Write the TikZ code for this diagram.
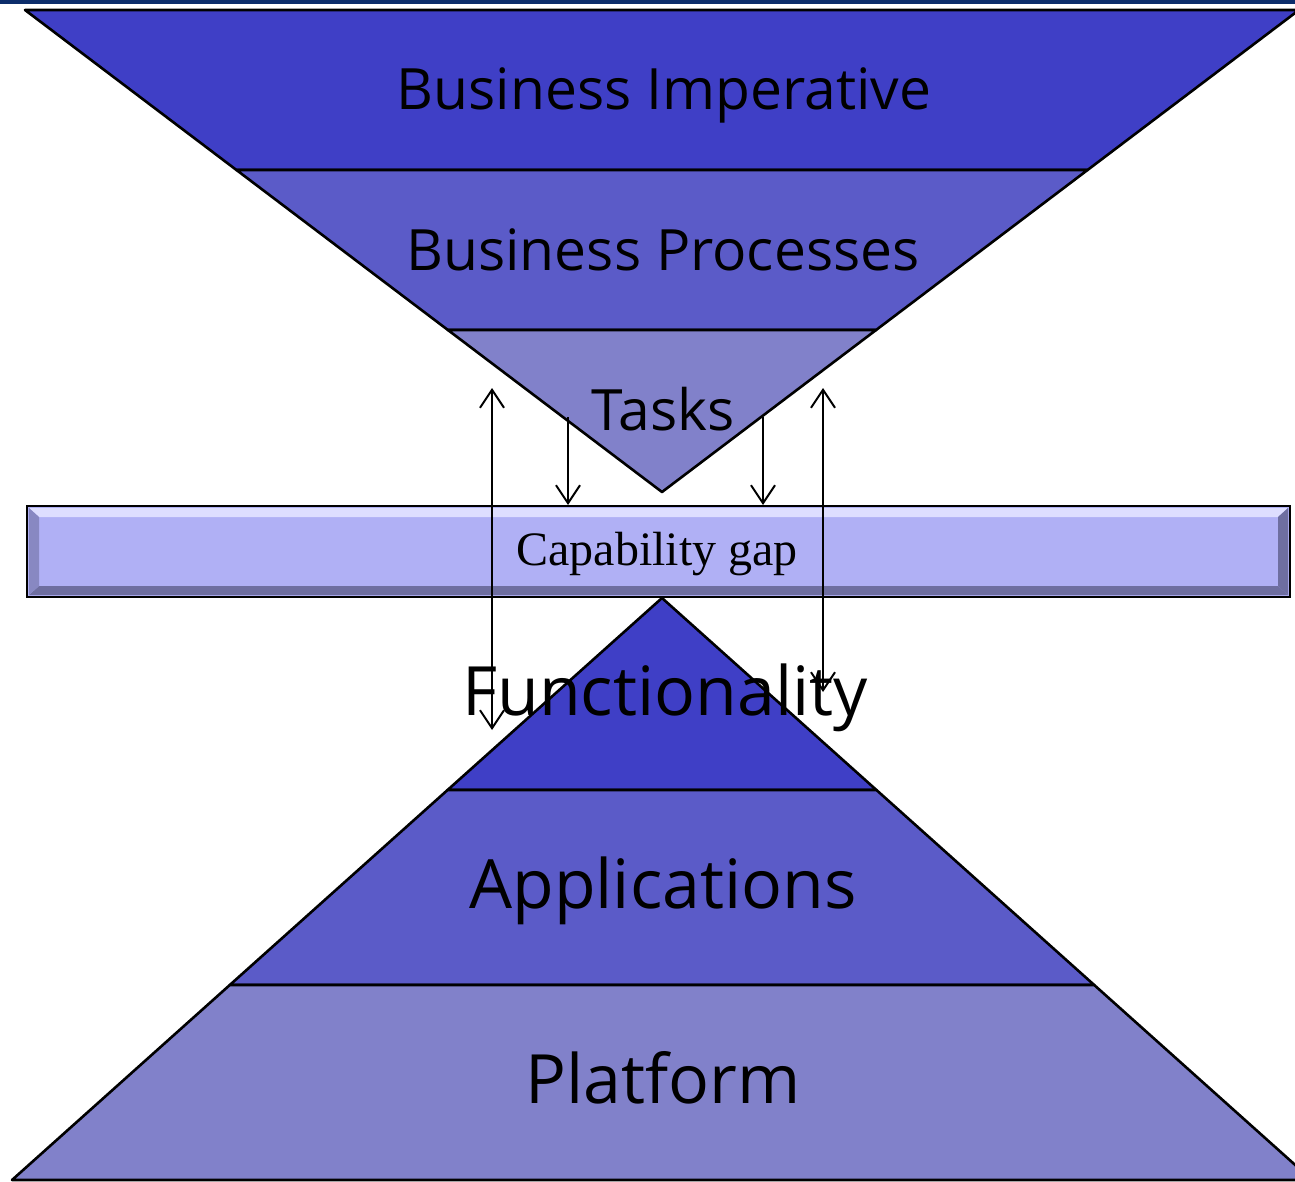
\documentclass[tikz,border=0pt]{standalone}
\usepackage{fontspec}
\newfontfamily\layerfont{Open Sans}
\newfontfamily\gapfont{Liberation Serif}
\usetikzlibrary{calc,math,arrows.meta}

\definecolor{navy}{RGB}{12,45,107}
\definecolor{bandA}{RGB}{63,63,198}
\definecolor{bandB}{RGB}{91,91,200}
\definecolor{bandC}{RGB}{129,129,202}
\definecolor{barfill}{RGB}{176,176,245}
\definecolor{barlight}{RGB}{222,222,255}
\definecolor{bardark}{RGB}{110,110,160}

\tikzset{
    layer/.style={draw=black, line width=2.6pt, line join=round},
    toplabel/.style={anchor=base, font=\layerfont\fontsize{57}{60}\selectfont},
    botlabel/.style={anchor=base, font=\layerfont\fontsize{68}{72}\selectfont},
    gaparrow/.style={line width=2pt, >={Straight Barb[length=18pt,width=24pt,line width=2pt]}},
}

\begin{document}
\begin{tikzpicture}[x=1pt, y=-1pt]
            \tikzmath{\slopetop = 637/482; \slopebot = 650/582;}
            \useasboundingbox (0,0) rectangle (1295,1182);
            \begin{scope}
            \clip (0,0) rectangle (1295,1182);
            \fill[navy] (0,0) rectangle (1295,4);

            % funnel of needs
            \foreach \ya/\yb/\col in {10/170/bandA, 170/330/bandB, 330/492/bandC}{
                \filldraw[layer, fill=\col] ({662-\slopetop*(492-\ya)},\ya) -- ({662+\slopetop*(492-\ya)},\ya)
                    -- ({662+\slopetop*(492-\yb)},\yb) -- ({662-\slopetop*(492-\yb)},\yb) -- cycle;
            }

            % pyramid of supply
            \foreach \ya/\yb/\col in {598/790/bandA, 790/985/bandB, 985/1180/bandC}{
                \filldraw[layer, fill=\col] ({662-\slopebot*(\ya-598)},\ya) -- ({662+\slopebot*(\ya-598)},\ya)
                    -- ({662+\slopebot*(\yb-598)},\yb) -- ({662-\slopebot*(\yb-598)},\yb) -- cycle;
            }

            % the gap bar
            \filldraw[fill=barfill, draw=black, line width=2.8pt] (27,506) rectangle (1290,597);
            \fill[barlight] (29,508) -- (1288,508) -- (1278,517) -- (39,517) -- cycle;
            \fill[bardark] (29,595) -- (1288,595) -- (1278,586) -- (39,586) -- cycle;
            \fill[bardark] (1288,508) -- (1288,595) -- (1278,586) -- (1278,517) -- cycle;
            \fill[bardark!60!barfill] (29,508) -- (29,595) -- (39,586) -- (39,517) -- cycle;
            \end{scope}

            \node[toplabel] (imperative) at (664,110) {Business Imperative};
            \node[toplabel] (processes) at (663,270) {Business Processes};
            \node[toplabel] (tasks) at (663,430) {Tasks};
            \node[anchor=base, font=\gapfont\fontsize{48}{50}\selectfont] (gap) at (657,565) {Capability gap};
            \node[botlabel] (functionality) at (665,715) {Functionality};
            \node[botlabel] (applications) at (663,908) {Applications};
            \node[botlabel] (platform) at (663,1103) {Platform};

            \coordinate (lefttop) at (492,388);
            \coordinate (leftbot) at (492,730);
            \coordinate (righttop) at (823,388);
            \coordinate (rightbot) at (823,692);
            \coordinate (taskl) at (568,417);
            \coordinate (taskr) at (763,417);
            \coordinate (gapl) at (568,505);
            \coordinate (gapr) at (763,505);

            \draw[gaparrow, <->] (lefttop) -- (leftbot);
            \draw[gaparrow, <->] (righttop) -- (rightbot);
            \draw[gaparrow, ->] (taskl) -- (gapl);
            \draw[gaparrow, ->] (taskr) -- (gapr);
        \end{tikzpicture}
\end{document}
